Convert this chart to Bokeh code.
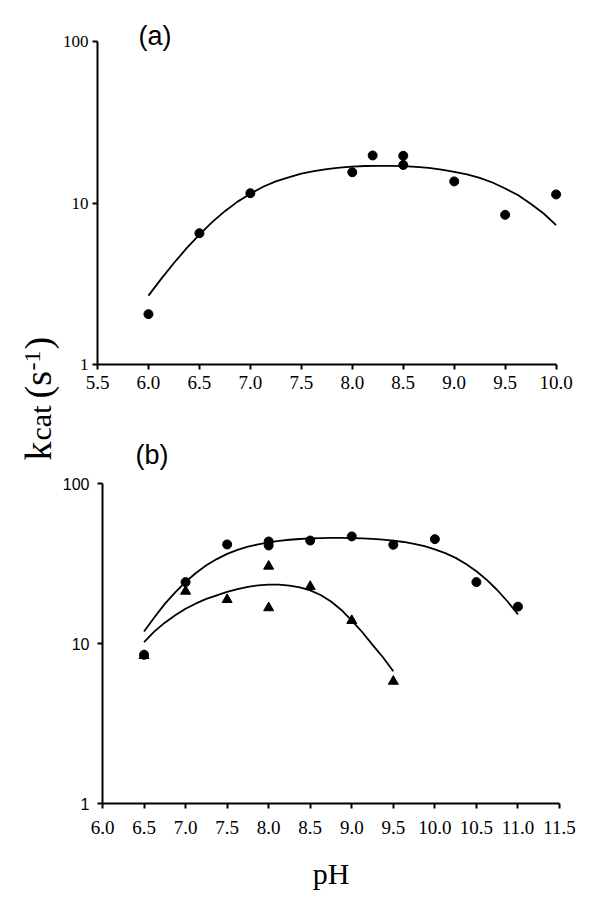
import math
from bokeh.plotting import figure
from bokeh.models import Range1d, FixedTicker, LogTickFormatter, NumeralTickFormatter, Label, Spacer
from bokeh.layouts import row, column
from bokeh.embed import file_html
from bokeh.resources import INLINE

SERIF = "Liberation Serif"
SANS = "Liberation Sans"

# ---------------- data: panel (a) ----------------
ph_a = [6.0, 6.5, 7.0, 8.0, 8.2, 8.5, 8.5, 9.0, 9.5, 10.0]
kcat_a = [2.05, 6.5, 11.5, 15.5, 19.7, 19.6, 17.2, 13.6, 8.45, 11.3]

fit_ph_a = [6.0, 6.125, 6.25, 6.375, 6.5, 6.625, 6.75, 6.875, 7.0, 7.125, 7.25, 7.375,
            7.5, 7.625, 7.75, 7.875, 8.0, 8.125, 8.25, 8.375, 8.5, 8.625, 8.75, 8.875,
            9.0, 9.125, 9.25, 9.375, 9.5, 9.625, 9.75, 9.875, 10.0]
fit_kcat_a = [2.67, 3.39, 4.25, 5.25, 6.38, 7.61, 8.9, 10.2, 11.4, 12.6, 13.6, 14.4,
              15.2, 15.75, 16.2, 16.55, 16.8, 16.95, 17.0, 17.0, 16.9, 16.75, 16.5, 16.1,
              15.6, 15.05, 14.3, 13.4, 12.3, 11.2, 9.9, 8.64, 7.3]

# ---------------- data: panel (b) ----------------
ph_b_circ = [6.5, 7.0, 7.5, 8.0, 8.0, 8.5, 9.0, 9.5, 10.0, 10.5, 11.0]
kcat_b_circ = [8.5, 24.2, 41.6, 43.4, 41.0, 44.0, 46.7, 41.4, 44.9, 24.2, 17.0]

ph_b_tri = [6.5, 7.0, 7.5, 8.0, 8.0, 8.5, 9.0, 9.5]
kcat_b_tri = [8.4, 21.2, 18.8, 30.4, 16.7, 22.7, 13.9, 5.8]

fit_ph_b_circ = [6.5, 6.625, 6.75, 6.875, 7.0, 7.125, 7.25, 7.375, 7.5, 7.625, 7.75, 7.875,
                 8.0, 8.125, 8.25, 8.375, 8.5, 8.625, 8.75, 8.875, 9.0, 9.125, 9.25, 9.375,
                 9.5, 9.625, 9.75, 9.875, 10.0, 10.125, 10.25, 10.375, 10.5, 10.625, 10.75,
                 10.875, 11.0]
fit_kcat_b_circ = [11.9, 14.6, 17.7, 20.9, 24.3, 27.6, 30.8, 33.7, 36.3, 38.5, 40.3, 41.7,
                   42.9, 43.8, 44.5, 45.0, 45.4, 45.6, 45.7, 45.7, 45.6, 45.4, 45.1, 44.6,
                   44.0, 43.1, 42.0, 40.6, 38.8, 36.7, 34.3, 31.4, 28.3, 25.0, 21.6,
                   18.3, 15.2]

fit_ph_b_tri = [6.5, 6.625, 6.75, 6.875, 7.0, 7.125, 7.25, 7.375, 7.5, 7.625, 7.75, 7.875,
                8.0, 8.125, 8.25, 8.375, 8.5, 8.625, 8.75, 8.875, 9.0, 9.125, 9.25, 9.375, 9.5]
fit_kcat_b_tri = [10.2, 11.9, 13.5, 15.0, 16.5, 17.8, 19.0, 20.0, 21.0, 21.9, 22.6, 23.1,
                  23.3, 23.3, 23.0, 22.4, 21.5, 20.1, 18.3, 16.2, 13.9, 11.8, 9.8, 8.2, 6.7]

# ---------------- ticks / texts ----------------
xticks_a = [5.5, 6.0, 6.5, 7.0, 7.5, 8.0, 8.5, 9.0, 9.5, 10.0]
xticks_b = [6.0, 6.5, 7.0, 7.5, 8.0, 8.5, 9.0, 9.5, 10.0, 10.5, 11.0, 11.5]
yticks = [1, 10, 100]

y_label_parts = ["k", "cat", "(s", "-1", ")"]
x_label = "pH"
panel_labels = ["(a)", "(b)"]


def style(p, xticks, xbounds, ytick_font, ytick_size, x_standoff, y_standoff):
    p.grid.visible = False
    p.outline_line_color = None
    p.background_fill_color = None
    p.border_fill_color = None
    for ax in p.axis:
        ax.axis_line_color = "black"
        ax.axis_line_width = 2
        ax.major_tick_line_color = "black"
        ax.major_tick_line_width = 2
        ax.major_tick_out = 5
        ax.major_tick_in = 0
        ax.minor_tick_line_color = None
        ax.major_label_text_color = "black"
    xa = p.xaxis[0]
    xa.ticker = FixedTicker(ticks=xticks)
    xa.formatter = NumeralTickFormatter(format="0.0")
    xa.bounds = xbounds
    xa.major_label_text_font = SERIF
    xa.major_label_text_font_size = "19px"
    xa.major_label_standoff = x_standoff
    ya = p.yaxis[0]
    ya.ticker = FixedTicker(ticks=yticks, minor_ticks=[])
    ya.formatter = LogTickFormatter(min_exponent=3)
    ya.major_label_text_font = ytick_font
    ya.major_label_text_font_size = ytick_size
    ya.major_label_standoff = y_standoff


def panel_title(p, text, offset, standoff):
    p.title.text = text
    p.title.align = "left"
    p.title.offset = offset
    p.title.standoff = standoff
    p.title.text_font = SANS
    p.title.text_font_size = "27px"
    p.title.text_font_style = "normal"
    p.title.text_color = "black"


# ---------------- panel (a) ----------------
pa = figure(x_range=Range1d(5.5, 10.2), y_range=Range1d(1, 100), y_axis_type="log",
            frame_width=479, frame_height=323,
            min_border_top=41, min_border_left=46, min_border_right=15, min_border_bottom=56,
            output_backend="svg", toolbar_location=None)
style(pa, xticks_a, (5.5, 10.0), SERIF, "17px", 6, 4)
panel_title(pa, panel_labels[0], 41, -19)
pa.line(fit_ph_a, fit_kcat_a, line_color="black", line_width=1.8)
pa.scatter(ph_a, kcat_a, marker="circle", size=9, fill_color="black", line_color="black")

# ---------------- panel (b) ----------------
pb = figure(x_range=Range1d(6.0, 11.5), y_range=Range1d(1, 100), y_axis_type="log",
            frame_width=457, frame_height=320,
            min_border_top=63, min_border_left=46, min_border_right=22, min_border_bottom=107,
            output_backend="svg", toolbar_location=None)
style(pb, xticks_b, (6.0, 11.5), SANS, "16px", 12, 8)
panel_title(pb, panel_labels[1], 33, 28)
pb.xaxis[0].axis_label = x_label
pb.xaxis[0].axis_label_text_font = SERIF
pb.xaxis[0].axis_label_text_font_size = "30px"
pb.xaxis[0].axis_label_text_font_style = "normal"
pb.xaxis[0].axis_label_text_color = "black"
pb.xaxis[0].axis_label_standoff = 20
pb.line(fit_ph_b_circ, fit_kcat_b_circ, line_color="black", line_width=1.8)
pb.line(fit_ph_b_tri, fit_kcat_b_tri, line_color="black", line_width=1.8)
pb.scatter(ph_b_circ, kcat_b_circ, marker="circle", size=9, fill_color="black", line_color="black")
pb.scatter(ph_b_tri, kcat_b_tri, marker="triangle", size=10, fill_color="black", line_color="black")

# ---------------- shared y label ----------------
LH = 910
pl = figure(width=62, height=LH, x_range=Range1d(0, 62), y_range=Range1d(0, LH),
            x_axis_location=None, y_axis_location=None, min_border=0,
            output_backend="svg", toolbar_location=None)
pl.grid.visible = False
pl.outline_line_color = None
pl.background_fill_color = None
pl.border_fill_color = None
pl.margin = (0, -11, 0, 0)
label_specs = [
    (y_label_parts[0], 37, LH - 460, "38px"),
    (y_label_parts[1], 40, LH - 440, "30px"),
    (y_label_parts[2], 37, LH - 398, "38px"),
    (y_label_parts[3], 32, LH - 370, "24px"),
    (y_label_parts[4], 37, LH - 349, "38px"),
]
for txt, lx, ly, fs in label_specs:
    pl.add_layout(Label(x=lx, y=ly, text=txt, angle=math.pi / 2, text_font=SERIF,
                        text_font_size=fs, text_align="left", text_baseline="middle",
                        text_color="black"))

layout = row(pl, column(pa, row(Spacer(width=5, height=490), pb)))
open("out.html", "w").write(file_html(layout, INLINE))
